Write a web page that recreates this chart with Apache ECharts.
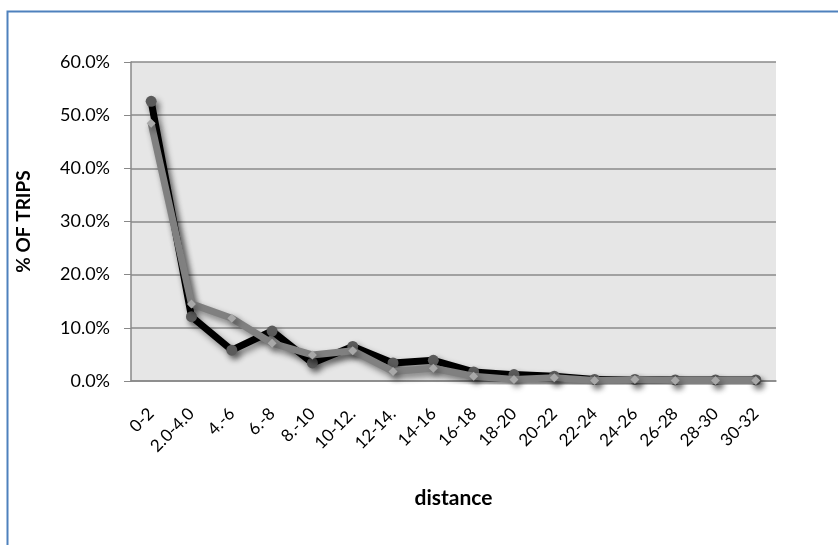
<!DOCTYPE html>
<html>
<head>
<meta charset="utf-8">
<script src="https://cdn.jsdelivr.net/npm/echarts@6/dist/echarts.min.js"></script>
<style>
  html, body { margin: 0; padding: 0; background: #fff; }
  #chart { width: 838px; height: 545px; }
</style>
</head>
<body>
<div id="chart"></div>
<script>
// Distance bands (miles) on the x axis
const distanceBands = ['0-2', '2.0-4.0', '4.-6', '6.-8', '8.-10', '10-12.', '12-14.', '14-16',
  '16-18', '18-20', '20-22', '22-24', '24-26', '26-28', '28-30', '30-32'];

// Share of trips per band, in percent
const tripsDark = [52.6, 12.1, 5.8, 9.4, 3.4, 6.5, 3.4, 3.9, 1.7, 1.2, 0.9, 0.3, 0.3, 0.2, 0.2, 0.2];
const tripsLight = [48.5, 14.5, 11.8, 7.1, 4.9, 5.7, 1.8, 2.4, 0.9, 0.3, 0.6, 0.1, 0.3, 0.1, 0.1, 0.1];

const yTicks = { min: 0, max: 60, step: 10 };

const FONT = 'Lato';
const shadow = { shadowColor: 'rgba(0,0,0,0.45)', shadowBlur: 6, shadowOffsetX: 3, shadowOffsetY: 4 };

const chart = echarts.init(document.getElementById('chart'), null, { renderer: 'canvas' });

chart.setOption({
  animation: false,
  backgroundColor: '#ffffff',
  graphic: [{
    type: 'rect',
    left: 5, top: 9,
    shape: { width: 840, height: 545 },
    style: { fill: 'none', stroke: '#4f81bd', lineWidth: 2 },
    z: -1
  }],
  grid: {
    left: 131, right: 62, top: 62, bottom: 164,
    show: true, backgroundColor: '#e6e6e6', borderWidth: 0
  },
  xAxis: {
    type: 'category',
    data: distanceBands,
    boundaryGap: true,
    name: 'distance',
    nameLocation: 'middle',
    nameGap: 107,
    nameMoveOverlap: false,
    nameTextStyle: { fontFamily: FONT, fontWeight: 'bold', fontSize: 21, color: '#000' },
    axisLine: { show: true, lineStyle: { color: '#888', width: 1.5 } },
    axisTick: { show: false },
    axisLabel: {
      rotate: 45, interval: 0, margin: 30,
      fontFamily: FONT, fontSize: 17, color: '#000'
    },
    splitLine: { show: false }
  },
  yAxis: {
    type: 'value',
    min: yTicks.min, max: yTicks.max, interval: yTicks.step,
    name: '% OF TRIPS',
    nameLocation: 'middle',
    nameGap: 98,
    nameRotate: 90,
    nameMoveOverlap: false,
    nameTextStyle: { fontFamily: FONT, fontWeight: 'bold', fontSize: 19, color: '#000' },
    axisLine: { show: true, lineStyle: { color: '#888', width: 1.5 } },
    axisTick: { show: true, inside: false, length: 7, lineStyle: { color: '#888' } },
    axisLabel: {
      margin: 21,
      fontFamily: FONT, fontSize: 18, color: '#000',
      formatter: v => v.toFixed(1) + '%'
    },
    splitLine: { show: true, lineStyle: { color: '#8a8a8a', width: 1.5 } }
  },
  series: [
    {
      type: 'line',
      data: tripsDark,
      symbol: 'circle',
      symbolSize: 11,
      itemStyle: Object.assign({ color: '#5a5a5a' }, shadow),
      lineStyle: Object.assign({ color: '#000000', width: 7 }, shadow),
      z: 2
    },
    {
      type: 'line',
      data: tripsLight,
      symbol: 'diamond',
      symbolSize: 9,
      itemStyle: Object.assign({ color: '#a8a8a8' }, shadow),
      lineStyle: Object.assign({ color: '#808080', width: 7 }, shadow),
      z: 3
    }
  ]
});
</script>
</body>
</html>
